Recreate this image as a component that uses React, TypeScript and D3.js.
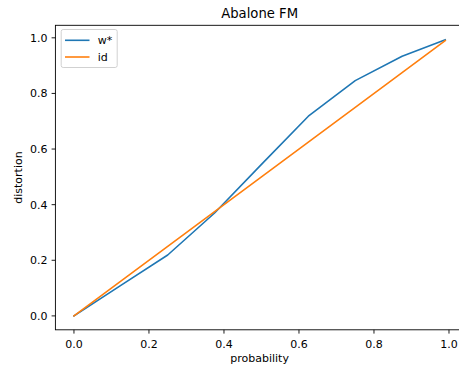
import React from "react";
import * as d3 from "d3";

const probability = [0, 0.125, 0.25, 0.375, 0.5, 0.625, 0.75, 0.875, 0.99];
const wStar = [0, 0.11, 0.219, 0.37, 0.545, 0.718, 0.846, 0.934, 0.993];
const identity = [0, 0.125, 0.25, 0.375, 0.5, 0.625, 0.75, 0.875, 0.99];
const xTicks = [0, 0.2, 0.4, 0.6, 0.8, 1.0];
const yTicks = [0, 0.2, 0.4, 0.6, 0.8, 1.0];
const seriesNames = ["w*", "id"];
const colors = ["#1f77b4", "#ff7f0e"];

export default function App() {
  const W = 459, H = 366;
  const left = 55.4, right = 463.8, top = 25.3, bottom = 329.8;
  const x = d3.scaleLinear().domain([-0.0495, 1.0395]).range([left, right]);
  const y = d3.scaleLinear().domain([-0.05, 1.045]).range([bottom, top]);
  const font = "DejaVu Sans, sans-serif";
  const series = [wStar, identity];
  const line = (vals: number[]) =>
    d3.line<number>().x((_, i) => x(probability[i])).y((v) => y(v))(vals) || "";

  return (
    <svg width={W} height={H} style={{ position: "absolute", left: 0, top: 0 }} fontFamily={font}>
      <rect x={0} y={0} width={W} height={H} fill="white" />
      <defs>
        <clipPath id="plotclip">
          <rect x={left} y={top} width={right - left} height={bottom - top} />
        </clipPath>
      </defs>
      <g clipPath="url(#plotclip)">
        {series.map((s, i) => (
          <path key={i} d={line(s)} fill="none" stroke={colors[i]} strokeWidth={1.6} strokeLinecap="square" strokeLinejoin="round" />
        ))}
      </g>
      <rect x={left} y={top} width={right - left} height={bottom - top} fill="none" stroke="#000" strokeWidth={0.9} />
      {xTicks.map((t) => (
        <g key={"x" + t}>
          <line x1={x(t)} x2={x(t)} y1={bottom} y2={bottom + 3.8} stroke="#000" strokeWidth={0.9} />
          <text x={x(t)} y={347.5} textAnchor="middle" fontSize={11} fill="#000">{t.toFixed(1)}</text>
        </g>
      ))}
      {yTicks.map((t) => (
        <g key={"y" + t}>
          <line x1={left - 3.8} x2={left} y1={y(t)} y2={y(t)} stroke="#000" strokeWidth={0.9} />
          <text x={47.6} y={y(t) + 4} textAnchor="end" fontSize={11} fill="#000">{t.toFixed(1)}</text>
        </g>
      ))}
      <text x={(left + right) / 2} y={361.5} textAnchor="middle" fontSize={11} fill="#000">probability</text>
      <text transform={`translate(21.5,${(top + bottom) / 2}) rotate(-90)`} textAnchor="middle" fontSize={11} fill="#000">distortion</text>
      <text x={(left + right) / 2} y={18.3} textAnchor="middle" fontSize={13.2} fill="#000">Abalone FM</text>
      <rect x={61.2} y={29.5} width={56} height={38} rx={2} ry={2} fill="white" fillOpacity={0.8} stroke="#cccccc" strokeWidth={0.9} />
      {seriesNames.map((n, i) => (
        <g key={n}>
          <line x1={65} x2={89.5} y1={40.3 + i * 16.7} y2={40.3 + i * 16.7} stroke={colors[i]} strokeWidth={1.6} />
          <text x={97.7} y={44.2 + i * 16.7} fontSize={11} fill="#000">{n}</text>
        </g>
      ))}
    </svg>
  );
}
